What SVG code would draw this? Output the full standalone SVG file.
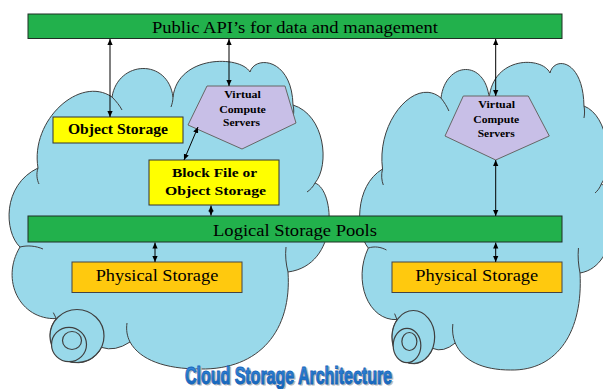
<svg xmlns="http://www.w3.org/2000/svg" xmlns:xlink="http://www.w3.org/1999/xlink" width="603" height="389" viewBox="0 0 603 389">
<style>
.cloud{fill:#99D9EA;stroke:#3f3f3f;stroke-width:1;}
.tick{fill:none;stroke:#3f3f3f;stroke-width:1;}
.ring{fill:#99D9EA;stroke:#3f3f3f;stroke-width:1.2;}
.bar{fill:#22B14C;stroke:#1f2f24;stroke-width:1;}
.yel{fill:#FFFF00;stroke:#333;stroke-width:1;}
.gold{fill:#FFC90E;stroke:#444;stroke-width:1;}
.pent{fill:#C8BFE7;stroke:#666;stroke-width:1;}
.t{font-family:"Liberation Serif","Times New Roman",serif;fill:#000;text-anchor:middle;}
.b{font-weight:bold;}
.conn line{stroke:#000;stroke-width:1;marker-start:url(#ah);marker-end:url(#ah);}
.title{font-family:"Liberation Sans Narrow","Liberation Sans",Arial,sans-serif;font-weight:bold;font-size:23px;}
</style>
<defs>
<marker id="ah" viewBox="0 0 8 8" refX="8" refY="4" markerWidth="6" markerHeight="6" markerUnits="userSpaceOnUse" orient="auto-start-reverse">
<path d="M0,0.5 L8,4 L0,7.5 z" fill="#000"/>
</marker>
<linearGradient id="tg" x1="0" y1="0" x2="0" y2="1">
<stop offset="0" stop-color="#3C8FE0"/>
<stop offset="1" stop-color="#0F5FB5"/>
</linearGradient>
<g id="cloudShape">
<path class="cloud" vector-effect="non-scaling-stroke" d="M38,168 C30,120 80,75 112,97 C118,60 168,58 173,97 C178,55 240,55 250,72 C255,55 292,58 293,105 C325,115 330,165 315,183 C335,190 340,265 288,272 C292,330 260,370 200,369 C165,369 140,360 130,342 Q115,352 101.5,347.4 A27,27 0 1 1 56.3,318.6 C20,320 0,280 20,247 C4,232 2,185 38,168 Z"/>
<path class="tick" vector-effect="non-scaling-stroke" d="M38,168 c-2,6 -1,12 1,16 M112,97 c4,4 8,9 10,13 M173,97 c0,4 -1,7 -2,10 M293,105 c1,4 1,8 0,12 M315,183 c-2,4 -5,7 -8,9 M288,272 c-2,-8 -3,-16 -2,-25 M130,342 c-3,-6 -4,-12 -3,-19 M20,247 c8,-2 16,-1 23,2 M56.3,318.6 l-3,-6"/>
<ellipse class="ring" vector-effect="non-scaling-stroke" cx="77" cy="336" rx="27" ry="26.5"/>
<ellipse class="ring" vector-effect="non-scaling-stroke" cx="69" cy="344.5" rx="17.5" ry="17.2"/>
<ellipse class="ring" vector-effect="non-scaling-stroke" cx="72" cy="340.5" rx="9.5" ry="9"/>
</g>
</defs>
<rect width="603" height="389" fill="#fff"/>

<g id="cloud-left"><use xlink:href="#cloudShape"/></g>
<g id="cloud-right"><use xlink:href="#cloudShape" transform="translate(352.5,1) scale(0.79,1)"/></g>

<g id="public-api">
<rect class="bar" x="28" y="14" width="534" height="24.5"/>
<text class="t" x="295" y="33" font-size="17" textLength="286" lengthAdjust="spacingAndGlyphs">Public API’s for data and management</text>
</g>

<g id="object-storage">
<rect class="yel" x="53" y="117" width="130" height="26"/>
<text class="t b" x="118" y="134" font-size="14" textLength="100" lengthAdjust="spacingAndGlyphs">Object Storage</text>
</g>

<g id="vcs-left">
<polygon class="pent" points="207,86 285,86 296,123 242,149 188,125"/>
<text class="t b" x="242.5" y="98.3" font-size="10.5" textLength="36.7" lengthAdjust="spacingAndGlyphs">Virtual</text>
<text class="t b" x="242.5" y="112.7" font-size="10.5" textLength="46.7" lengthAdjust="spacingAndGlyphs">Compute</text>
<text class="t b" x="241.5" y="126" font-size="10.5" textLength="37" lengthAdjust="spacingAndGlyphs">Servers</text>
</g>

<g id="vcs-right">
<polygon class="pent" points="463.3,96 528.3,96 549.3,136 495.7,160 445,136"/>
<text class="t b" x="496.7" y="108.3" font-size="10.5" textLength="36.7" lengthAdjust="spacingAndGlyphs">Virtual</text>
<text class="t b" x="496.3" y="123.3" font-size="10.5" textLength="46" lengthAdjust="spacingAndGlyphs">Compute</text>
<text class="t b" x="496.2" y="137.3" font-size="10.5" textLength="37" lengthAdjust="spacingAndGlyphs">Servers</text>
</g>

<g id="block-storage">
<rect class="yel" x="149" y="160" width="130" height="45"/>
<text class="t b" x="214.5" y="177.3" font-size="13.5" textLength="85" lengthAdjust="spacingAndGlyphs">Block File or</text>
<text class="t b" x="215.5" y="195" font-size="13.5" textLength="101" lengthAdjust="spacingAndGlyphs">Object Storage</text>
</g>

<g id="logical-pools">
<rect class="bar" x="28" y="216" width="534" height="26"/>
<text class="t" x="295" y="235.7" font-size="16" textLength="164" lengthAdjust="spacingAndGlyphs">Logical Storage Pools</text>
</g>

<g id="physical-left">
<rect class="gold" x="72" y="262" width="170" height="30.5"/>
<text class="t" x="157" y="280.7" font-size="16" textLength="122.6" lengthAdjust="spacingAndGlyphs">Physical Storage</text>
</g>

<g id="physical-right">
<rect class="gold" x="392" y="262" width="170" height="30.5"/>
<text class="t" x="476.7" y="280.7" font-size="16" textLength="123" lengthAdjust="spacingAndGlyphs">Physical Storage</text>
</g>

<g id="connectors" class="conn">
<line x1="110" y1="39" x2="110" y2="117"/>
<line x1="229" y1="39" x2="229" y2="86"/>
<line x1="495.7" y1="39" x2="495.7" y2="96"/>
<line x1="198" y1="127" x2="184" y2="160"/>
<line x1="211" y1="205.5" x2="211" y2="215.5"/>
<line x1="155" y1="242.5" x2="155" y2="262"/>
<line x1="495.7" y1="160" x2="495.7" y2="216"/>
<line x1="495.7" y1="242.5" x2="495.7" y2="262"/>
</g>

<g id="title">
<text class="title" x="186.5" y="385" fill="#b8b8b8" stroke="#b8b8b8" stroke-width="0.9" textLength="207" lengthAdjust="spacingAndGlyphs">Cloud Storage Architecture</text>
<text class="title" x="185" y="384" fill="url(#tg)" stroke="#1566BE" stroke-width="0.9" textLength="207" lengthAdjust="spacingAndGlyphs">Cloud Storage Architecture</text>
</g>
</svg>
